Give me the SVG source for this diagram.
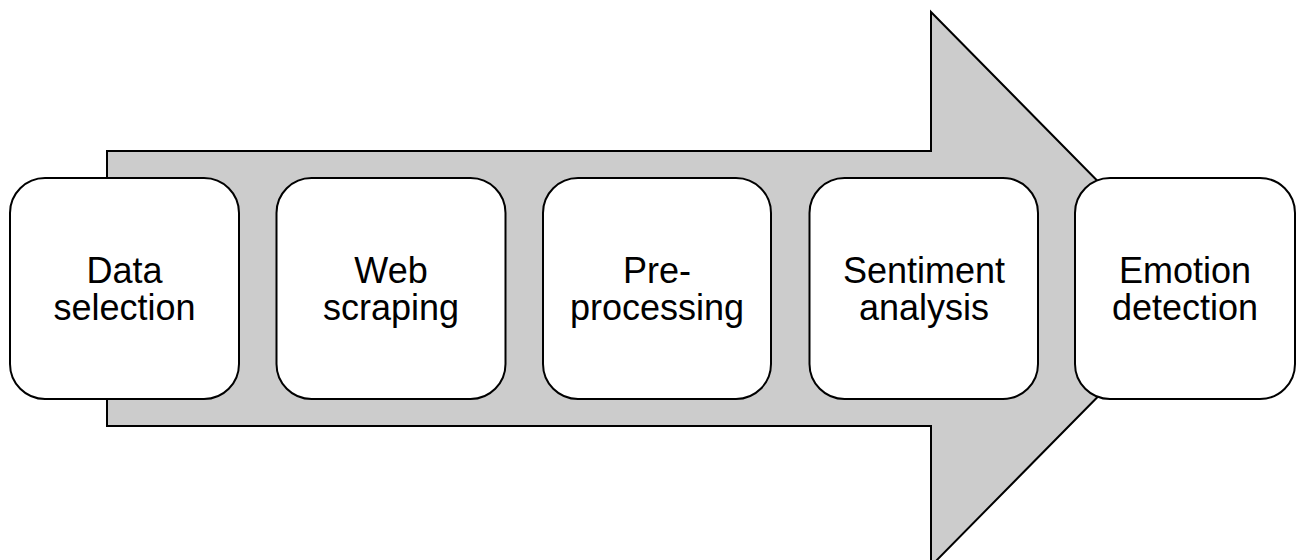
<svg xmlns="http://www.w3.org/2000/svg" width="1296" height="560" viewBox="0 0 1296 560">
  <style>
    .arrow { fill: #cccccc; stroke: #000000; stroke-width: 2; stroke-linejoin: miter; }
    .box { fill: #ffffff; stroke: #000000; stroke-width: 2; }
    .label { font-family: "Liberation Sans", Arial, sans-serif; font-size: 36px; fill: #000000; text-anchor: middle; }
  </style>
  <rect width="1296" height="560" fill="#ffffff"/>
  <!-- large process arrow behind the steps -->
  <g id="connectors">
    <polygon class="arrow" points="107,151 931,151 931,12 1204,289 931,566 931,426 107,426"/>
  </g>
  <g id="step1">
    <rect class="box" x="10" y="178" width="229" height="221" rx="35" ry="35"/>
    <text class="label" x="124.5" y="283">Data</text>
    <text class="label" x="124.5" y="320">selection</text>
  </g>
  <g id="step2">
    <rect class="box" x="276.5" y="178" width="229" height="221" rx="35" ry="35"/>
    <text class="label" x="391" y="283">Web</text>
    <text class="label" x="391" y="320">scraping</text>
  </g>
  <g id="step3">
    <rect class="box" x="543" y="178" width="228" height="221" rx="35" ry="35"/>
    <text class="label" x="657" y="283">Pre-</text>
    <text class="label" x="657" y="320">processing</text>
  </g>
  <g id="step4">
    <rect class="box" x="809.5" y="178" width="228.5" height="221" rx="35" ry="35"/>
    <text class="label" x="924" y="283">Sentiment</text>
    <text class="label" x="924" y="320">analysis</text>
  </g>
  <g id="step5">
    <rect class="box" x="1075" y="178" width="220" height="221" rx="35" ry="35"/>
    <text class="label" x="1185" y="283">Emotion</text>
    <text class="label" x="1185" y="320">detection</text>
  </g>
</svg>
